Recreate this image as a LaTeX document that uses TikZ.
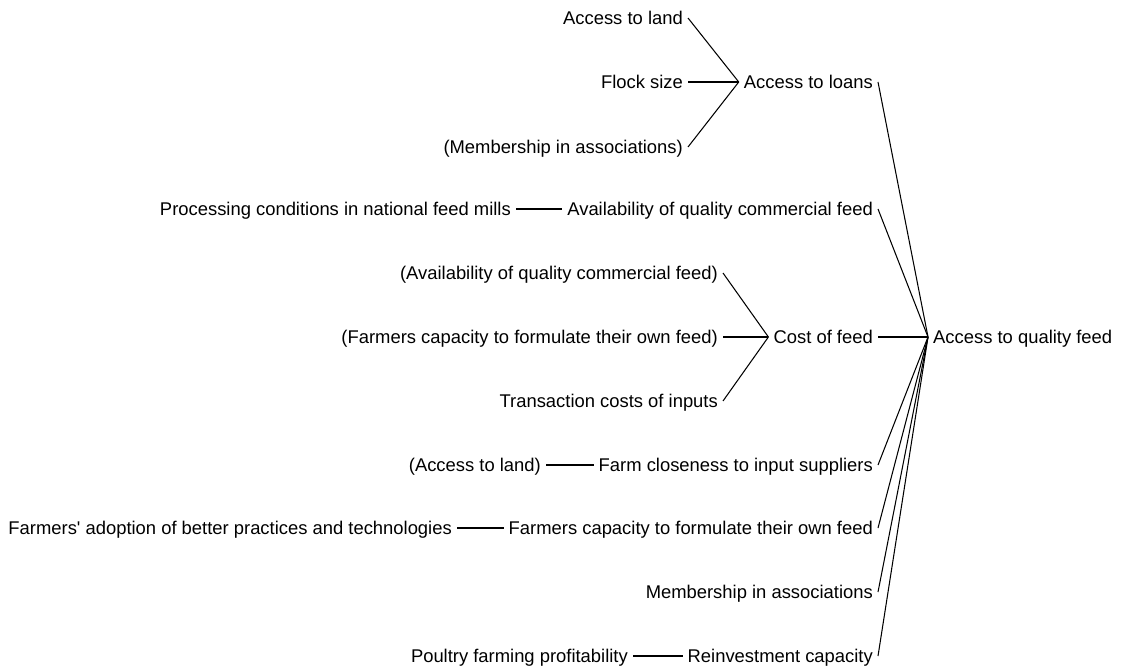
\documentclass[tikz,border=0pt]{standalone}
\usepackage{fontspec}
\setmainfont{Liberation Sans}[Ligatures=TeXOff]
\begin{document}
\begin{tikzpicture}[x=1pt,y=-1pt,
  lbl/.style={inner xsep=5pt,inner ysep=0pt,text height=13.4pt,text depth=0pt,
    font=\fontsize{18.4}{22}\selectfont,anchor=east},
  root/.style={lbl,anchor=west},
  link/.style={draw=black,line width=1.05pt}]
\useasboundingbox (0,0) rectangle (1121,668);

% root variable
\node[root] (q) at (928,337) {Access to quality feed};

% first-level causes (right edges aligned)
\node[lbl] (loans) at (878,82)  {Access to loans};
\node[lbl] (avail) at (878,209) {Availability of quality commercial feed};
\node[lbl] (cost)  at (878,337) {Cost of feed};
\node[lbl] (close) at (878,465) {Farm closeness to input suppliers};
\node[lbl] (capac) at (878,528) {Farmers capacity to formulate their own feed};
\node[lbl] (memb)  at (878,592) {Membership in associations};
\node[lbl] (reinv) at (878,656) {Reinvestment capacity};

% second-level causes
\node[lbl] (land)   at (688,18)  {Access to land};
\node[lbl] (flock)  at (688,82)  {Flock size};
\node[lbl] (membp)  at (688,147) {(Membership in associations)};
\node[lbl] (mills)  at (516,209) {Processing conditions in national feed mills};
\node[lbl] (availp) at (723,273) {(Availability of quality commercial feed)};
\node[lbl] (capacp) at (723,337) {(Farmers capacity to formulate their own feed)};
\node[lbl] (trans)  at (723,401) {Transaction costs of inputs};
\node[lbl] (landp)  at (546,465) {(Access to land)};
\node[lbl] (adopt)  at (457,528) {Farmers' adoption of better practices and technologies};
\node[lbl] (profit) at (633,656) {Poultry farming profitability};

% links into the root
\foreach \n in {loans,avail,cost,close,capac,memb,reinv}
  \draw[link] (\n.east) -- (q.west);

% links into first-level variables
\foreach \n in {land,flock,membp} \draw[link] (\n.east) -- (loans.west);
\draw[link] (mills.east) -- (avail.west);
\foreach \n in {availp,capacp,trans} \draw[link] (\n.east) -- (cost.west);
\draw[link] (landp.east) -- (close.west);
\draw[link] (adopt.east) -- (capac.west);
\draw[link] (profit.east) -- (reinv.west);
\end{tikzpicture}
\end{document}
